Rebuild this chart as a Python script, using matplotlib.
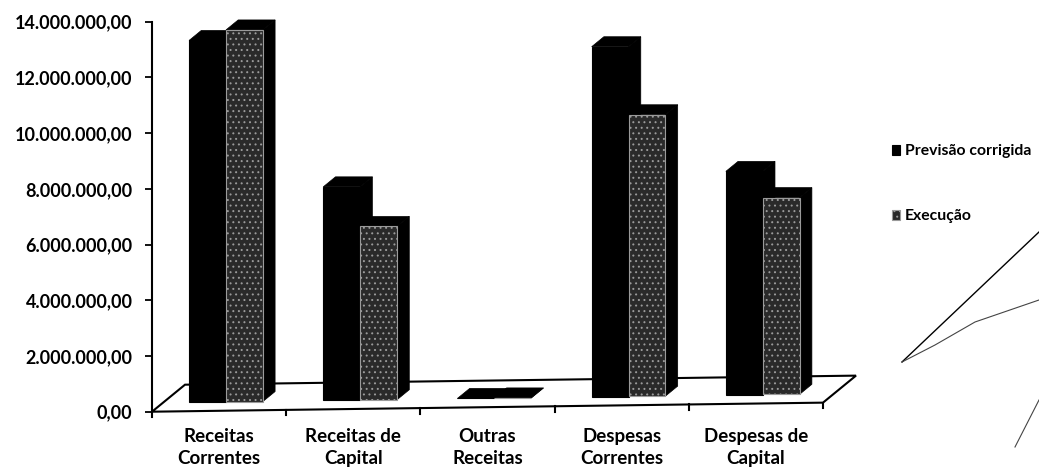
import matplotlib.pyplot as plt
import numpy as np
from matplotlib.patches import Polygon
from matplotlib.lines import Line2D
from matplotlib.ticker import FuncFormatter

plt.rcParams['font.family'] = ['Lato', 'DejaVu Sans']
plt.rcParams['font.weight'] = 'bold'
plt.rcParams['hatch.linewidth'] = 0.7

categorias = ['Receitas\nCorrentes', 'Receitas de\nCapital', 'Outras\nReceitas',
              'Despesas\nCorrentes', 'Despesas de\nCapital']
series = ['Previsão corrigida', 'Execução']
previsao = [12.98e6, 7.66e6, 0.0, 12.56e6, 8.02e6]
execucao = [13.34e6, 6.22e6, 0.0, 10.10e6, 7.06e6]

# fake 3d look (excel style)
DEPTH_X = 0.246     # floor depth in category units
DEPTH_Y = 0.97e6    # floor depth in value units
TILT = 0.065e6      # floor rises a bit to the right
T_FRONT, T_BACK = 0.33, 0.70
W = 0.275


def floor(xv):
    return TILT * (np.asarray(xv) + 0.5)


def pt_fmt(v, pos):
    s = f"{v:,.2f}"
    return s.replace(',', 'X').replace('.', ',').replace('X', '.')


fig = plt.figure(figsize=(10.39, 4.68), dpi=100)
ax = fig.add_axes([0.1463, 0.1203, 0.6458, 0.8333])
ax.set_xlim(-0.5, 4.5)
ax.set_ylim(0, 14e6)

x = np.arange(len(categorias))

# floor
fl = Polygon([(-0.5, floor(-0.5)), (4.5, floor(4.5)),
              (4.5 + DEPTH_X, floor(4.5) + DEPTH_Y),
              (-0.5 + DEPTH_X, floor(-0.5) + DEPTH_Y)],
             closed=True, facecolor='white', edgecolor='black', lw=1.5,
             clip_on=False, zorder=1)
ax.add_patch(fl)

# category boundary ticks on the slanted front edge
for b in np.arange(-0.5, 5, 1.0):
    ax.plot([b, b], [floor(b), floor(b) - 0.2e6], color='black', lw=1.5,
            clip_on=False, zorder=1)

dx = DEPTH_X * (T_BACK - T_FRONT)
dy = DEPTH_Y * (T_BACK - T_FRONT)

styles = [dict(color='black', edgecolor='black', hatch=None),
          dict(color='#2a2a2a', edgecolor='#9a9a9a', hatch='...')]
handles = []
for s, vals in enumerate([previsao, execucao]):
    x0 = x - 0.03 - W + s * W + T_FRONT * DEPTH_X
    bottoms = floor(x0 + W / 2) + T_FRONT * DEPTH_Y
    z = 2 + 2 * s
    for xi, b, v in zip(x0, bottoms, vals):
        top = b + v
        x1 = xi + W
        side = Polygon([(x1, b), (x1, top), (x1 + dx, top + dy), (x1 + dx, b + dy)],
                       closed=True, facecolor='black', edgecolor='black', lw=0.5,
                       zorder=z, clip_on=False)
        cap = Polygon([(xi, top), (x1, top), (x1 + dx, top + dy), (xi + dx, top + dy)],
                      closed=True, facecolor='black', edgecolor='black', lw=0.5,
                      zorder=z, clip_on=False)
        ax.add_patch(side)
        ax.add_patch(cap)
    st = styles[s]
    bars = ax.bar(x0, vals, width=W, bottom=bottoms, align='edge',
                  color=st['color'], edgecolor=st['edgecolor'], hatch=st['hatch'],
                  lw=0.8, zorder=z + 1, clip_on=False, label=series[s])
    handles.append(bars)

ax.yaxis.set_major_formatter(FuncFormatter(pt_fmt))
ax.set_yticks(np.arange(0, 14e6 + 1, 2e6))
ax.tick_params(axis='y', length=5, width=1.3, pad=9, labelsize=13, colors='black')
ax.set_xticks(x, categorias)
ax.tick_params(axis='x', length=0, pad=12, labelsize=13.5)
for lab in ax.get_xticklabels():
    lab.set_linespacing(1.33)

for side in ['top', 'right', 'bottom']:
    ax.spines[side].set_visible(False)
ax.spines['left'].set_linewidth(1.5)
ax.patch.set_visible(False)

fig.legend(handles, series, loc='upper left', bbox_to_anchor=(886 / 1039, 1 - 138 / 468),
           frameon=False, handlelength=0.5, handleheight=0.6, handletextpad=0.3,
           labelspacing=3.25, fontsize=11.3, borderaxespad=0)

# pen marks on the scanned page
fig.add_artist(Line2D([902 / 1039, 1.0], [1 - 362 / 468, 1 - 232 / 468],
                      transform=fig.transFigure, color='black', lw=1.0))
fig.add_artist(Line2D([902 / 1039, 935 / 1039, 975 / 1039, 1.0],
                      [1 - 362 / 468, 1 - 345 / 468, 1 - 322 / 468, 1 - 300 / 468],
                      transform=fig.transFigure, color='#444444', lw=0.8))
fig.add_artist(Line2D([1015 / 1039, 1.0], [1 - 447 / 468, 1 - 400 / 468],
                      transform=fig.transFigure, color='#444444', lw=0.8))

fig.savefig('out.png', dpi=100)
